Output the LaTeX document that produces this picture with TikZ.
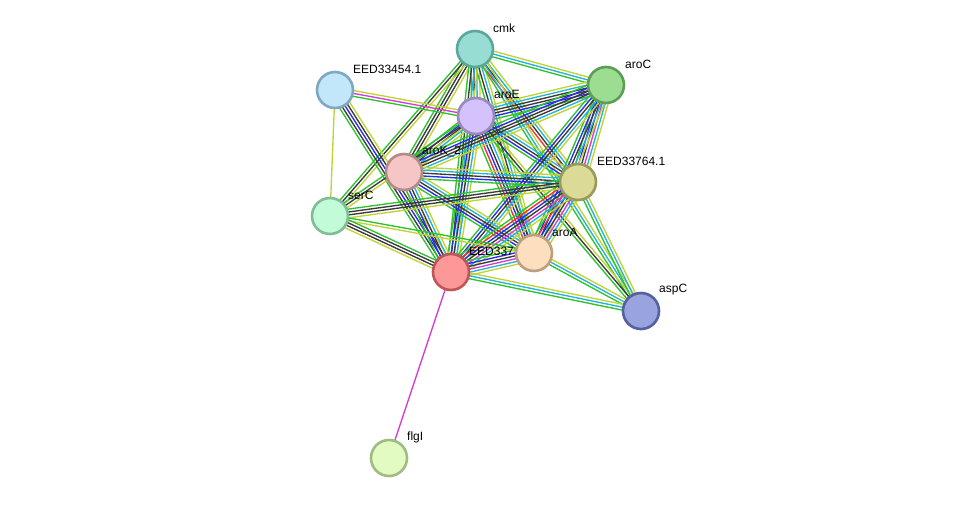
\documentclass[tikz,border=0pt]{standalone}
\usepackage{fontspec}
\setmainfont{Liberation Sans}
\usetikzlibrary{calc}
\pgfdeclarelayer{paper}
\pgfdeclarelayer{edges}
\pgfdeclarelayer{labels}
\pgfsetlayers{paper,edges,labels,main}
\definecolor{cG}{HTML}{2EC32E}
\definecolor{cR}{HTML}{F0312F}
\definecolor{cB}{HTML}{2A2AF0}
\definecolor{cK}{HTML}{3A3A3A}
\definecolor{cM}{HTML}{D63AD8}
\definecolor{cC}{HTML}{24B4D6}
\definecolor{cY}{HTML}{C0D435}
\tikzset{
  prot/.style={circle, minimum size=36pt, inner sep=0pt, line width=2.6pt},
  lbl/.style={anchor=west, inner sep=0pt, font=\fontsize{12}{14}\selectfont},
  ln/.style={line width=1.35pt}
}
\newcommand\bundle[3]{%
  \foreach \cc [count=\kk] in {#3}{\xdef\nbund{\kk}}%
  \foreach \cc [count=\kk] in {#3}{%
    \pgfmathsetmacro\off{(\kk-(\nbund+1)/2)*2.9}%
    \draw[ln, color=\cc] ($(#1)!\off pt!90:(#2)$) -- ($(#2)!\off pt!-90:(#1)$);
  }}
\begin{document}
\begin{tikzpicture}[x=1pt,y=-1pt]
\useasboundingbox (0,0) rectangle (975,504);
\begin{pgfonlayer}{paper}
\fill[white] (0,0) rectangle (975,504);
\end{pgfonlayer}
% nodes
\node[prot, fill={rgb,255:red,152;green,221;blue,212}, draw={rgb,255:red,93;green,166;blue,155}] (cmk) at (475,49) {};
\node[prot, fill={rgb,255:red,157;green,221;blue,146}, draw={rgb,255:red,92;green,158;blue,85}] (aroC) at (606,85) {};
\node[prot, fill={rgb,255:red,194;green,231;blue,251}, draw={rgb,255:red,127;green,168;blue,193}] (e454) at (335,90) {};
\node[prot, fill={rgb,255:red,211;green,194;blue,251}, draw={rgb,255:red,154;green,137;blue,192}] (aroE) at (476,116) {};
\node[prot, fill={rgb,255:red,246;green,198;blue,198}, draw={rgb,255:red,181;green,137;blue,137}] (aroK) at (404,172) {};
\node[prot, fill={rgb,255:red,220;green,218;blue,151}, draw={rgb,255:red,156;green,153;blue,90}] (e764) at (578,182) {};
\node[prot, fill={rgb,255:red,194;green,251;blue,216}, draw={rgb,255:red,128;green,190;blue,152}] (serC) at (330,216) {};
\node[prot, fill={rgb,255:red,253;green,222;blue,191}, draw={rgb,255:red,189;green,159;blue,127}] (aroA) at (534,253) {};
\node[prot, fill={rgb,255:red,253;green,152;blue,152}, draw={rgb,255:red,190;green,86;blue,86}] (e337) at (451,272) {};
\node[prot, fill={rgb,255:red,153;green,164;blue,222}, draw={rgb,255:red,85;green,96;blue,160}] (aspC) at (641,311) {};
\node[prot, fill={rgb,255:red,226;green,251;blue,195}, draw={rgb,255:red,162;green,187;blue,130}] (flgI) at (389,458) {};
% labels
\begin{pgfonlayer}{labels}
\node[lbl] (cmkL) at (493,28) {cmk};
\node[lbl] (aroCL) at (625,64) {aroC};
\node[lbl] (e454L) at (353,69) {EED33454.1};
\node[lbl] (aroEL) at (494,94) {aroE};
\node[lbl] (aroKL) at (422,151) {aroK\_2};
\node[lbl] (e764L) at (597,161) {EED33764.1};
\node[lbl] (serCL) at (348,195) {serC};
\node[lbl] (aroAL) at (552,232) {aroA};
\node[lbl] (e337L) at (469,251) {EED337};
\node[lbl] (aspCL) at (659,290) {aspC};
\node[lbl] (flgIL) at (407,437) {flgI};
\end{pgfonlayer}
% edges
\begin{pgfonlayer}{edges}
\bundle{cmk}{aroC}{cG,cC,cY}
\bundle{cmk}{aroE}{cG,cK,cC,cY}
\bundle{cmk}{aroK}{cG,cK,cK,cY}
\bundle{cmk}{serC}{cG,cK,cY}
\bundle{cmk}{e764}{cR,cK,cC,cY}
\bundle{cmk}{aroA}{cG,cK,cC,cY}
\bundle{cmk}{e337}{cG,cK,cC,cY}
\bundle{cmk}{aspC}{cG,cC,cY}
\bundle{e454}{aroE}{cG,cM,cY}
\bundle{e454}{e337}{cG,cK,cB,cK,cY}
\bundle{e454}{serC}{cY}
\bundle{aroE}{aroC}{cG,cB,cK,cK,cC,cY}
\bundle{aroE}{aroK}{cG,cB,cK,cC,cY}
\bundle{aroE}{e764}{cG,cB,cK,cC,cY}
\bundle{aroE}{aroA}{cG,cR,cB,cK,cC,cY}
\bundle{aroE}{e337}{cG,cB,cK,cC,cY}
\bundle{aroE}{serC}{cG,cK,cY}
\bundle{aroE}{aspC}{cG,cK,cY}
\bundle{aroC}{aroK}{cG,cB,cK,cK,cC,cY}
\bundle{aroC}{e764}{cG,cB,cK,cM,cC,cY}
\bundle{aroC}{aroA}{cG,cB,cK,cC,cY}
\bundle{aroC}{e337}{cG,cB,cK,cC,cY}
\bundle{aroK}{e764}{cG,cB,cK,cC,cY}
\bundle{aroK}{aroA}{cG,cB,cK,cC,cY}
\bundle{aroK}{e337}{cG,cB,cK,cC,cY}
\bundle{e764}{aroA}{cG,cR,cB,cK,cM,cC,cY}
\bundle{e764}{e337}{cG,cR,cB,cK,cM,cC,cY}
\bundle{e764}{serC}{cG,cK,cK,cY}
\bundle{e764}{aspC}{cG,cC,cY}
\bundle{aroA}{e337}{cG,cB,cK,cM,cC,cY}
\bundle{aroA}{aspC}{cG,cC,cY}
\bundle{aroA}{serC}{cG,cY}
\bundle{e337}{aspC}{cG,cC,cY}
\bundle{e337}{serC}{cG,cK,cK,cY}
\bundle{e337}{flgI}{cM}
\end{pgfonlayer}
\end{tikzpicture}
\end{document}
